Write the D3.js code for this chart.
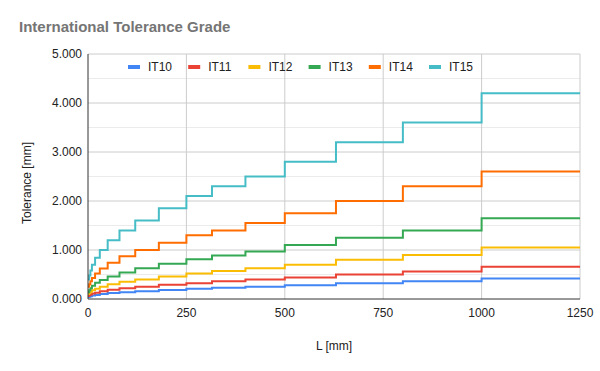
<!DOCTYPE html>
<html>
<head>
<script src="https://d3js.org/d3.v7.min.js"></script>
<style>
body { margin: 0; background: #fff; }
text { font-family: Arial, "Liberation Sans", sans-serif; }
</style>
</head>
<body>
<svg id="chart" width="600" height="371"></svg>
<script>
// nominal size range boundaries [mm]
var bounds = [0, 3, 6, 10, 18, 30, 50, 80, 120, 180, 250, 315, 400, 500, 630, 800, 1000, 1250]
// tolerance per range [mm]
var it10 = [0.04, 0.048, 0.058, 0.07, 0.084, 0.1, 0.12, 0.14, 0.16, 0.185, 0.21, 0.23, 0.25, 0.28, 0.32, 0.36, 0.42]
var it11 = [0.06, 0.075, 0.09, 0.11, 0.13, 0.16, 0.19, 0.22, 0.25, 0.29, 0.32, 0.36, 0.4, 0.44, 0.5, 0.56, 0.66]
var it12 = [0.1, 0.12, 0.15, 0.18, 0.21, 0.25, 0.3, 0.35, 0.4, 0.46, 0.52, 0.57, 0.63, 0.7, 0.8, 0.9, 1.05]
var it13 = [0.14, 0.18, 0.22, 0.27, 0.33, 0.39, 0.46, 0.54, 0.63, 0.72, 0.81, 0.89, 0.97, 1.1, 1.25, 1.4, 1.65]
var it14 = [0.25, 0.3, 0.36, 0.43, 0.52, 0.62, 0.74, 0.87, 1.0, 1.15, 1.3, 1.4, 1.55, 1.75, 2.0, 2.3, 2.6]
var it15 = [0.4, 0.48, 0.58, 0.7, 0.84, 1.0, 1.2, 1.4, 1.6, 1.85, 2.1, 2.3, 2.5, 2.8, 3.2, 3.6, 4.2]
var names = ["IT10", "IT11", "IT12", "IT13", "IT14", "IT15"]
var colors = ["#4285f4", "#ea4335", "#fbbc04", "#34a853", "#ff6d01", "#46bdc6"]
var xTicks = [0, 250, 500, 750, 1000, 1250]
var yTicks = [0, 1, 2, 3, 4, 5]

var series = [it10, it11, it12, it13, it14, it15]

var svg = d3.select("#chart")
var plotL = 88, plotR = 580, plotT = 54, plotB = 299

var x = d3.scaleLinear().domain([0, 1250]).range([plotL, plotR])
var y = d3.scaleLinear().domain([0, 5]).range([plotB, plotT])

// title
svg.append("text")
    .attr("x", 19).attr("y", 32)
    .style("font-size", "15px").style("font-weight", "bold")
    .style("fill", "#757575")
    .text("International Tolerance Grade")

// minor horizontal grid
svg.append("g").selectAll("line")
    .data(d3.range(0.5, 5, 1))
    .join("line")
    .attr("x1", plotL).attr("x2", plotR)
    .attr("y1", d => y(d)).attr("y2", d => y(d))
    .style("stroke", "#ebebeb").style("stroke-width", 1)

// major horizontal grid
svg.append("g").selectAll("line")
    .data(yTicks.slice(1))
    .join("line")
    .attr("x1", plotL).attr("x2", plotR)
    .attr("y1", d => y(d)).attr("y2", d => y(d))
    .style("stroke", "#cccccc").style("stroke-width", 1)

// vertical grid
svg.append("g").selectAll("line")
    .data(xTicks.slice(1))
    .join("line")
    .attr("x1", d => x(d)).attr("x2", d => x(d))
    .attr("y1", plotT).attr("y2", plotB)
    .style("stroke", "#cccccc").style("stroke-width", 1)

// y tick labels
svg.append("g").selectAll("text")
    .data(yTicks)
    .join("text")
    .attr("x", plotL - 6).attr("y", d => y(d) + 4)
    .attr("text-anchor", "end")
    .style("font-size", "12px").style("fill", "#222")
    .text(d => d3.format(".3f")(d))

// x tick labels
svg.append("g").selectAll("text")
    .data(xTicks)
    .join("text")
    .attr("x", d => x(d)).attr("y", plotB + 18)
    .attr("text-anchor", "middle")
    .style("font-size", "12px").style("fill", "#222")
    .text(d => d)

// lines
var line = d3.line()
    .x(d => x(d[0]))
    .y(d => y(d[1]))
    .curve(d3.curveStepAfter)

series.forEach(function(vals, i) {
    var pts = vals.map((v, j) => [bounds[j], v])
    pts.push([bounds[bounds.length - 1], vals[vals.length - 1]])
    svg.append("path")
        .datum(pts)
        .attr("d", line)
        .style("fill", "none")
        .style("stroke", colors[i])
        .style("stroke-width", 2)
})

// axes
svg.append("line")
    .attr("x1", plotL).attr("x2", plotL).attr("y1", plotT).attr("y2", plotB)
    .style("stroke", "#333").style("stroke-width", 1)
svg.append("line")
    .attr("x1", plotL).attr("x2", plotR).attr("y1", plotB).attr("y2", plotB)
    .style("stroke", "#333").style("stroke-width", 1)

// axis titles
svg.append("text")
    .attr("x", (plotL + plotR) / 2).attr("y", 350)
    .attr("text-anchor", "middle")
    .style("font-size", "12px").style("fill", "#222")
    .text("L [mm]")
svg.append("text")
    .attr("transform", "translate(31,183) rotate(-90)")
    .attr("text-anchor", "middle")
    .style("font-size", "12px").style("fill", "#222")
    .text("Tolerance [mm]")

// legend
var legend = svg.append("g").selectAll("g")
    .data(names)
    .join("g")
    .attr("transform", (d, i) => "translate(" + (128 + i * 60.2) + ",67)")
legend.append("rect")
    .attr("x", 0).attr("y", -2).attr("width", 12).attr("height", 4)
    .style("fill", (d, i) => colors[i])
legend.append("text")
    .attr("x", 20).attr("y", 4)
    .style("font-size", "12px").style("fill", "#222")
    .text(d => d)
</script>
</body>
</html>
